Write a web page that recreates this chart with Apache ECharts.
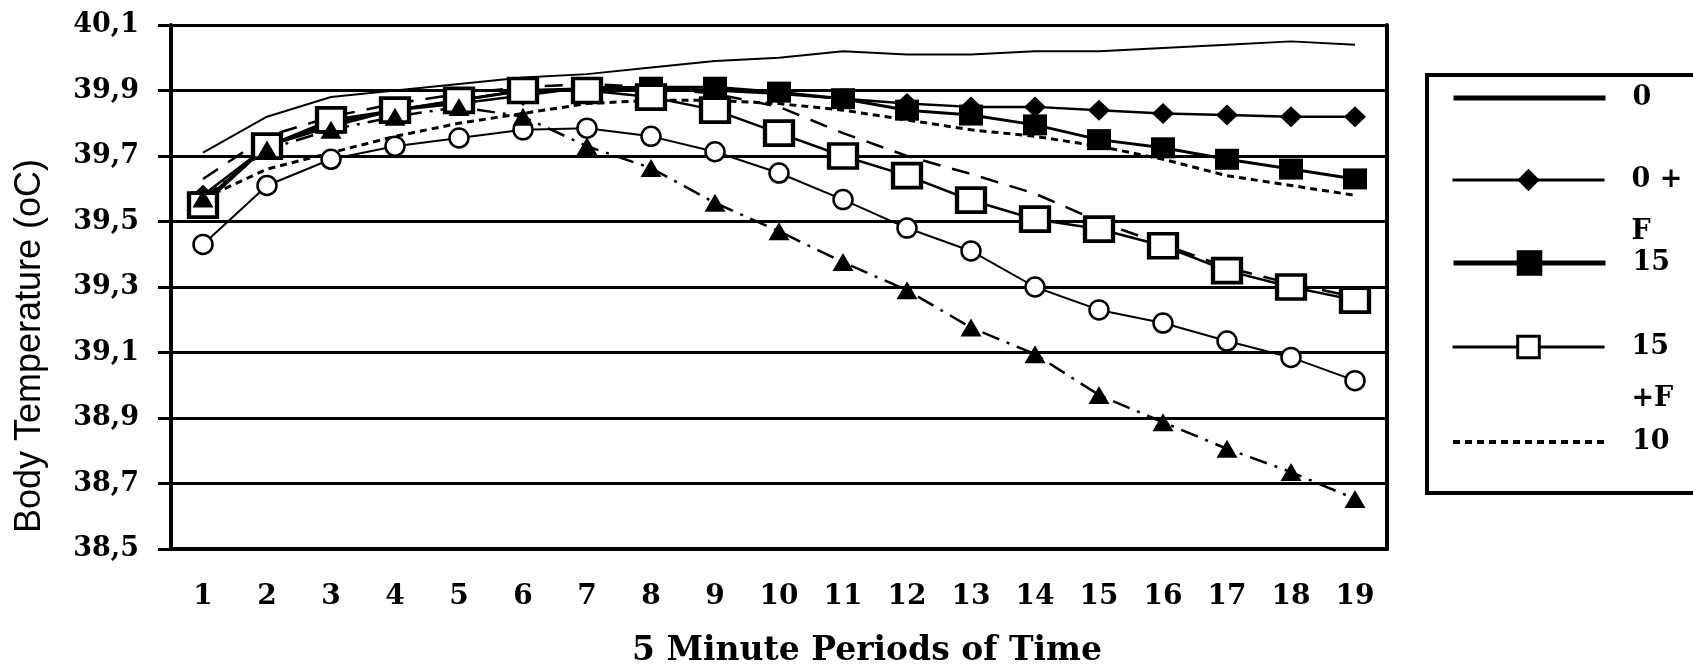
<!DOCTYPE html>
<html>
<head>
<meta charset="utf-8">
<script src="https://cdn.jsdelivr.net/npm/echarts@6/dist/echarts.min.js"></script>
<style>
  html, body { margin: 0; padding: 0; background: #fff; }
  #main { width: 1693px; height: 666px; }
</style>
</head>
<body>
<div id="main"></div>
<script>
// 5 minute periods
const periods = ['1', '2', '3', '4', '5', '6', '7', '8', '9', '10', '11', '12', '13', '14', '15', '16', '17', '18', '19'];

// body temperature (oC) per group
const temp0   = [39.71, 39.82, 39.88, 39.90, 39.92, 39.94, 39.95, 39.97, 39.99, 40.00, 40.02, 40.01, 40.01, 40.02, 40.02, 40.03, 40.04, 40.05, 40.04];
const temp0F  = [39.58, 39.73, 39.79, 39.84, 39.86, 39.885, 39.91, 39.91, 39.90, 39.89, 39.875, 39.86, 39.85, 39.85, 39.84, 39.83, 39.825, 39.82, 39.82];
const temp15  = [39.56, 39.73, 39.80, 39.84, 39.87, 39.90, 39.905, 39.91, 39.91, 39.895, 39.875, 39.84, 39.825, 39.795, 39.75, 39.725, 39.69, 39.66, 39.63];
const temp15F = [39.55, 39.73, 39.81, 39.84, 39.87, 39.90, 39.90, 39.88, 39.84, 39.77, 39.70, 39.64, 39.565, 39.507, 39.477, 39.426, 39.35, 39.30, 39.26];
const temp10  = [39.57, 39.66, 39.71, 39.76, 39.80, 39.83, 39.86, 39.87, 39.87, 39.86, 39.84, 39.81, 39.78, 39.76, 39.73, 39.69, 39.64, 39.61, 39.58];
const temp10F = [39.63, 39.76, 39.82, 39.86, 39.89, 39.91, 39.92, 39.91, 39.89, 39.85, 39.77, 39.70, 39.645, 39.585, 39.50, 39.43, 39.36, 39.31, 39.27];
const temp5   = [39.43, 39.61, 39.69, 39.73, 39.755, 39.78, 39.785, 39.76, 39.713, 39.648, 39.567, 39.48, 39.41, 39.30, 39.23, 39.19, 39.135, 39.085, 39.014];
const temp5F  = [39.57, 39.72, 39.78, 39.82, 39.85, 39.82, 39.73, 39.663, 39.557, 39.47, 39.376, 39.29, 39.176, 39.095, 38.97, 38.887, 38.806, 38.735, 38.653];

const yMin = 38.5;
const yMax = 40.1;
const yStep = 0.2;

const serifBold = { fontFamily: 'DejaVu Serif', fontWeight: 'bold', color: '#000' };

// one legend per entry so each can sit where the original one does
function legendItem(name, top, extra) {
  const lg = {
    data: [name],
    orient: 'vertical',
    left: 1451,
    top: top,
    padding: 0,
    itemWidth: 152,
    itemHeight: 27,
    selectedMode: false,
    textStyle: Object.assign({ fontSize: 27, lineHeight: 52, padding: [0, 0, 0, 22] }, serifBold)
  };
  return Object.assign(lg, extra);
}

const noMarker = { opacity: 0, color: 'rgba(0,0,0,0)', borderWidth: 0 };

const chart = echarts.init(document.getElementById('main'));

const option = {
  animation: false,
  backgroundColor: '#fff',
  grid: { left: 171, right: 306, top: 25, bottom: 117, containLabel: false, outerBoundsMode: 'none' },
  legend: [
    legendItem('0', 72, { lineStyle: { width: 5 }, itemStyle: noMarker }),
    legendItem('0 + F', 102, {
      itemHeight: 28,
      lineStyle: { width: 3 },
      formatter: (n) => '\n' + n.replace(' + ', ' +\n')
    }),
    legendItem('15', 237, { itemHeight: 32, lineStyle: { width: 5 } }),
    legendItem('15 + F', 269, {
      itemHeight: 27,
      lineStyle: { width: 3 },
      itemStyle: { borderWidth: 3 },
      formatter: (n) => '\n' + n.replace(' + ', '\n+')
    }),
    legendItem('10', 416, { lineStyle: { width: 4 }, itemStyle: noMarker })
  ],
  graphic: [{
    type: 'rect',
    shape: { x: 1427, y: 75, width: 400, height: 418 },
    style: { fill: 'none', stroke: '#000', lineWidth: 4 },
    silent: true
  }],
  xAxis: {
    type: 'category',
    data: periods,
    boundaryGap: true,
    axisLine: { lineStyle: { color: '#000', width: 4 } },
    axisTick: { length: 10, lineStyle: { color: '#000', width: 4 } },
    axisLabel: Object.assign({ margin: 34, fontSize: 28, interval: 0 }, serifBold),
    name: '5 Minute Periods of Time',
    nameLocation: 'middle',
    nameGap: 86,
    nameTextStyle: Object.assign({ fontSize: 33, padding: [0, 0, 0, 176] }, serifBold)
  },
  yAxis: [{
    type: 'value',
    min: yMin,
    max: yMax,
    interval: yStep,
    axisLine: { show: true, lineStyle: { color: '#000', width: 4 } },
    axisTick: { show: true, length: 13, lineStyle: { color: '#000', width: 3 } },
    axisLabel: Object.assign({
      margin: 32,
      fontSize: 27,
      formatter: (v) => v.toFixed(1).replace('.', ',')
    }, serifBold),
    splitLine: { lineStyle: { color: '#000', width: 3 } },
    name: 'Body Temperature (oC)',
    nameLocation: 'middle',
    nameRotate: 90,
    nameGap: 123,
    nameMoveOverlap: false,
    nameTextStyle: { fontFamily: 'Liberation Sans', fontSize: 36, color: '#000', padding: [0, 118, 0, 0] }
  }, {
    type: 'value',
    position: 'right',
    min: yMin,
    max: yMax,
    interval: yStep,
    axisLine: { show: true, lineStyle: { color: '#000', width: 4 } },
    axisTick: { show: false },
    axisLabel: { show: false },
    splitLine: { show: false }
  }],
  series: [
    { name: '0', type: 'line', data: temp0, symbol: 'none',
      lineStyle: { color: '#000', width: 2 }, itemStyle: { color: '#000' } },
    { name: '0 + F', type: 'line', data: temp0F, symbol: 'diamond', symbolSize: [22, 21],
      lineStyle: { color: '#000', width: 2.5 }, itemStyle: { color: '#000' } },
    { name: '15', type: 'line', data: temp15, symbol: 'rect', symbolSize: [24, 21],
      lineStyle: { color: '#000', width: 3 }, itemStyle: { color: '#000' } },
    { name: '15 + F', type: 'line', data: temp15F, symbol: 'rect', symbolSize: [28, 24],
      lineStyle: { color: '#000', width: 2.5 }, itemStyle: { color: '#fff', borderColor: '#000', borderWidth: 4 } },
    { name: '10', type: 'line', data: temp10, symbol: 'none',
      lineStyle: { color: '#000', width: 3, type: [7, 5] }, itemStyle: { color: '#000' } },
    { name: '10 + F', type: 'line', data: temp10F, symbol: 'none',
      lineStyle: { color: '#000', width: 2.5, type: [18, 12] }, itemStyle: { color: '#000' } },
    { name: '5', type: 'line', data: temp5, symbol: 'circle', symbolSize: 19,
      lineStyle: { color: '#000', width: 2 }, itemStyle: { color: '#fff', borderColor: '#000', borderWidth: 2.5 } },
    { name: '5 + F', type: 'line', data: temp5F, symbol: 'triangle', symbolSize: [21, 18],
      lineStyle: { color: '#000', width: 2.5, type: [18, 8, 3, 8] }, itemStyle: { color: '#000' } }
  ]
};

chart.setOption(option);
</script>
</body>
</html>
